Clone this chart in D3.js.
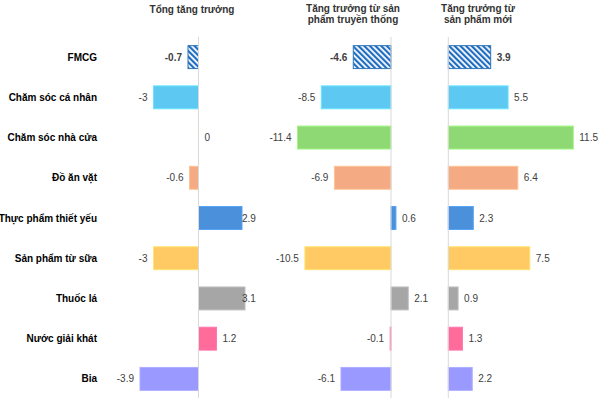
<!DOCTYPE html>
<html>
<head>
<meta charset="utf-8">
<script src="https://cdn.jsdelivr.net/npm/d3@7"></script>
<style>
  body { margin: 0; background: #fff; }
  text { font-family: Arial, "Liberation Sans", sans-serif; }
</style>
</head>
<body>
<div id="chart"></div>
<script>
var categories = ["FMCG", "Chăm sóc cá nhân", "Chăm sóc nhà cửa", "Đồ ăn vặt",
  "Thực phẩm thiết yếu", "Sản phẩm từ sữa", "Thuốc lá", "Nước giải khát", "Bia"];
var totalGrowth = [-0.7, -3, 0, -0.6, 2.9, -3, 3.1, 1.2, -3.9];
var traditionalGrowth = [-4.6, -8.5, -11.4, -6.9, 0.6, -10.5, 2.1, -0.1, -6.1];
var newProductGrowth = [3.9, 5.5, 11.5, 6.4, 2.3, 7.5, 0.9, 1.3, 2.2];
var barColors = ["hatch", "#5DC9F2", "#8ED973", "#F4AB84", "#4A90DA",
  "#FFCA64", "#A6A6A6", "#FF6B9A", "#9999FF"];
var panelTitles = [["Tổng tăng trưởng"], ["Tăng trưởng từ sản", "phẩm truyền thống"],
  ["Tăng trưởng từ", "sản phẩm mới"]];

var width = 602, height = 398;

var svg = d3.select("#chart").append("svg")
    .attr("width", width)
    .attr("height", height);

// hatch for the FMCG row
var pat = svg.append("defs").append("pattern")
    .attr("id", "hatch")
    .attr("patternUnits", "userSpaceOnUse")
    .attr("width", 4).attr("height", 4)
    .attr("patternTransform", "rotate(-45)");
pat.append("rect").attr("width", 4).attr("height", 4).attr("fill", "#fff");
pat.append("rect").attr("width", 2.2).attr("height", 4).attr("fill", "#1F6CC0");

var y = d3.scaleBand()
    .domain(categories)
    .range([37, 399])
    .paddingInner(0.43)
    .paddingOuter(0.215);

// category labels
svg.append("g").selectAll("text")
  .data(categories)
  .enter().append("text")
    .attr("x", 97)
    .attr("y", function(d) { return y(d) + y.bandwidth() / 2; })
    .attr("dy", "0.35em")
    .attr("text-anchor", "end")
    .attr("font-size", "10px")
    .attr("font-weight", "bold")
    .attr("fill", "#000")
    .text(function(d) { return d; });

var panels = [
  {values: totalGrowth, domain: [-4, 3], range: [138.5, 243.5], title: panelTitles[0], cx: 192, clamp: true},
  {values: traditionalGrowth, domain: [-12, 4], range: [292.6, 423.8], title: panelTitles[1], cx: 353},
  {values: newProductGrowth, domain: [0, 13], range: [448.3, 589.6], title: panelTitles[2], cx: 478}
];

panels.forEach(function(p) {
  var x = d3.scaleLinear().domain(p.domain).range(p.range);
  var g = svg.append("g");

  var rows = categories.map(function(c, i) {
    return {cat: c, value: p.values[i], color: barColors[i], i: i};
  });

  g.selectAll(".bar")
    .data(rows)
    .enter().append("rect")
      .attr("class", "bar")
      .attr("x", function(d) { return x(Math.min(0, d.value)); })
      .attr("y", function(d) { return y(d.cat); })
      .attr("width", function(d) { return Math.abs(x(d.value) - x(0)); })
      .attr("height", y.bandwidth())
      .attr("fill", function(d) { return d.color == "hatch" ? "url(#hatch)" : d.color; })
      .attr("stroke", function(d) {
        return d.color == "hatch" ? "#2E75B6" : d3.color(d.color).brighter(0.35);
      })
      .attr("stroke-width", 1);

  // zero line
  g.append("line")
    .attr("x1", x(0)).attr("x2", x(0))
    .attr("y1", 37).attr("y2", height)
    .attr("stroke", "#d9d9d9")
    .attr("stroke-width", 1);

  g.selectAll(".val")
    .data(rows)
    .enter().append("text")
      .attr("class", "val")
      .attr("x", function(d) {
        if (d.value < 0) return x(d.value) - 6;
        var pos = x(d.value) + 6;
        if (p.clamp) pos = Math.min(pos, p.range[1] - 1.5);
        return pos;
      })
      .attr("y", function(d) { return y(d.cat) + y.bandwidth() / 2; })
      .attr("dy", "0.35em")
      .attr("text-anchor", function(d) { return d.value < 0 ? "end" : "start"; })
      .attr("font-size", "10px")
      .attr("font-weight", function(d) { return d.i == 0 ? "bold" : "normal"; })
      .attr("fill", "#404040")
      .text(function(d) { return d.value; });

  var t = g.append("text")
    .attr("text-anchor", "middle")
    .attr("font-size", "10px")
    .attr("font-weight", "bold")
    .attr("fill", "#333");
  p.title.forEach(function(line, k) {
    t.append("tspan")
      .attr("x", p.cx)
      .attr("y", p.title.length == 1 ? 13 : 12 + k * 11)
      .text(line);
  });
});
</script>
</body>
</html>
